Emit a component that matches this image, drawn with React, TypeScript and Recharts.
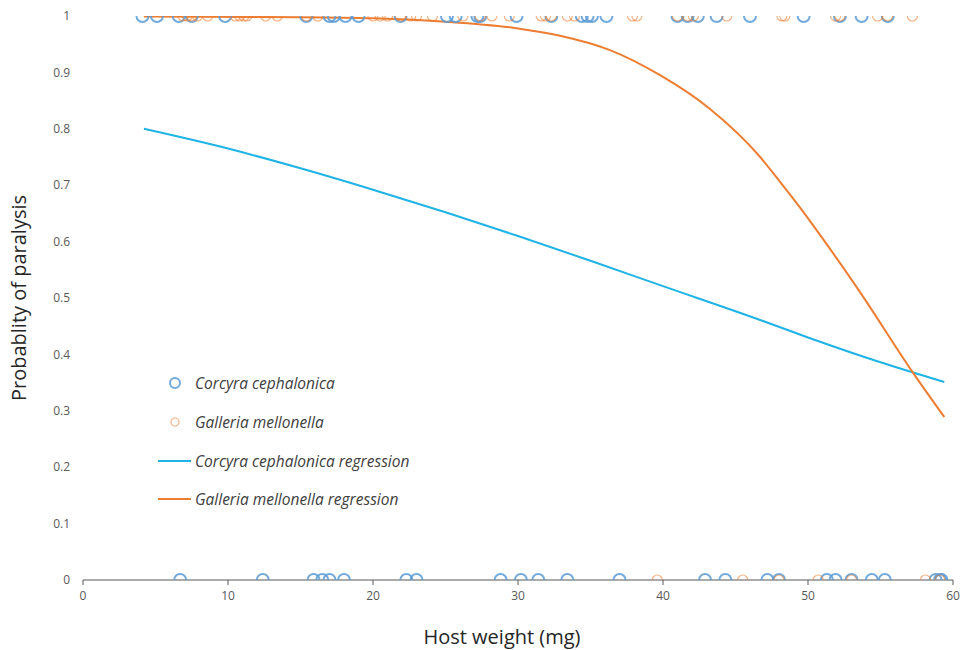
import React from 'react';
import { ComposedChart, Scatter, Line, XAxis, YAxis, Legend } from 'recharts';

// Host weights (mg) of Corcyra cephalonica hosts that were paralysed (1) or not (0)
const corcyraParalysedWeights = [4.1, 5.1, 6.6, 7.5, 9.8, 15.4, 17.0, 17.3, 18.1, 19.0, 21.9, 25.1, 25.7, 27.2, 27.4, 29.9, 32.3, 34.4, 34.8, 35.1, 36.1, 41.0, 41.7, 42.4, 43.7, 46.0, 49.7, 52.2, 53.7, 55.5];
const corcyraUnparalysedWeights = [6.7, 12.4, 15.9, 16.5, 17.0, 18.0, 22.3, 23.0, 28.8, 30.2, 31.4, 33.4, 37.0, 42.9, 44.3, 47.2, 48.0, 51.3, 51.9, 53.0, 54.4, 55.3, 58.8, 59.1, 59.2];

// Host weights (mg) of Galleria mellonella hosts that were paralysed (1) or not (0)
const galleriaParalysedWeights = [6.9, 7.2, 7.5, 7.9, 8.6, 10.5, 10.8, 11.1, 11.3, 12.6, 13.4, 15.4, 16.2, 20.0, 20.5, 21.0, 21.9, 22.6, 23.0, 24.1, 26.2, 27.4, 28.2, 29.4, 31.6, 31.9, 32.3, 33.4, 33.9, 37.9, 38.2, 41.0, 41.7, 42.1, 44.4, 48.2, 48.4, 51.9, 52.2, 54.8, 55.5, 57.2];
const galleriaUnparalysedWeights = [39.6, 45.5, 48.0, 50.7, 53.0, 58.1, 59.1];

// Regression curves
const corcyraRegWeights = [4.2, 10, 15, 20, 25, 30, 35, 40, 46.7, 50, 55, 59.4];
const corcyraRegProb = [0.8, 0.765, 0.73, 0.692, 0.652, 0.61, 0.566, 0.521, 0.461, 0.43, 0.386, 0.351];
const galleriaRegWeights = [4.2, 15, 20, 25, 30, 32.9, 36.3, 39.8, 43.2, 46.7, 48.1, 49.4, 51.3, 53.6, 57.2, 59.4];
const galleriaRegProb = [0.999, 0.998, 0.996, 0.99, 0.978, 0.965, 0.94, 0.895, 0.836, 0.75, 0.705, 0.662, 0.595, 0.51, 0.369, 0.289];

const xTicks = [0, 10, 20, 30, 40, 50, 60];
const yTicks = [0, 0.1, 0.2, 0.3, 0.4, 0.5, 0.6, 0.7, 0.8, 0.9, 1];

const BLUE = '#5B9BD5';
const ORANGE = '#ED7D31';
const CYAN = '#1FB3E6';

const corcyraData = [
  ...corcyraParalysedWeights.map((x) => ({ x, y: 1 })),
  ...corcyraUnparalysedWeights.map((x) => ({ x, y: 0 })),
];
const galleriaData = [
  ...galleriaParalysedWeights.map((x) => ({ x, y: 1 })),
  ...galleriaUnparalysedWeights.map((x) => ({ x, y: 0 })),
];
const corcyraReg = corcyraRegWeights.map((x, i) => ({ x, y: corcyraRegProb[i] }));
const galleriaReg = galleriaRegWeights.map((x, i) => ({ x, y: galleriaRegProb[i] }));

const FONT = '"Open Sans", "Noto Sans", sans-serif';

const BlueRing = (props: any) => (
  <circle cx={props.cx} cy={props.cy} r={6} fill="none" stroke={BLUE} strokeWidth={2} strokeOpacity={0.85} />
);
const OrangeRing = (props: any) => (
  <circle cx={props.cx} cy={props.cy} r={5} fill="none" stroke={ORANGE} strokeWidth={1.2} strokeOpacity={0.6} />
);

const legendItems = [
  { label: 'Corcyra cephalonica', kind: 'ring', color: BLUE },
  { label: 'Galleria mellonella', kind: 'ringSmall', color: ORANGE },
  { label: 'Corcyra cephalonica regression', kind: 'line', color: CYAN },
  { label: 'Galleria mellonella regression', kind: 'line', color: ORANGE },
];

const renderLegend = () => (
  <div style={{ fontFamily: FONT, fontStyle: 'italic', fontSize: 15.5, color: '#404040' }}>
    {legendItems.map((it) => (
      <div key={it.label} style={{ display: 'flex', alignItems: 'center', height: 38.7 }}>
        <svg width={37} height={20} style={{ flex: 'none' }}>
          {it.kind === 'line' ? (
            <line x1={0} y1={10} x2={33} y2={10} stroke={it.color} strokeWidth={2} />
          ) : it.kind === 'ring' ? (
            <circle cx={17} cy={10} r={5} fill="none" stroke={it.color} strokeWidth={2} strokeOpacity={0.85} />
          ) : (
            <circle cx={17} cy={10} r={4} fill="none" stroke={it.color} strokeWidth={1.2} strokeOpacity={0.6} />
          )}
        </svg>
        <span style={{ whiteSpace: 'nowrap' }}>{it.label}</span>
      </div>
    ))}
  </div>
);

const YLabel = (props: any) => {
  const vb = props.viewBox || { x: 0, y: 0, width: 0, height: 0 };
  const cx = vb.x + 18;
  const cy = vb.y + vb.height / 2;
  return (
    <text x={cx} y={cy} transform={`rotate(-90, ${cx}, ${cy})`} textAnchor="middle" dominantBaseline="central"
      fontSize={20} fill="#262626" fontFamily={FONT}>
      Probablity of paralysis
    </text>
  );
};

const XLabel = (props: any) => {
  const vb = props.viewBox || { x: 0, y: 0, width: 0, height: 0 };
  const cx = vb.x + vb.width / 2 - 16;
  const cy = vb.y + 56;
  return (
    <text x={cx} y={cy} textAnchor="middle" dominantBaseline="central" fontSize={20} fill="#262626" fontFamily={FONT}>
      Host weight (mg)
    </text>
  );
};

export default function App() {
  return (
    <div style={{ position: 'absolute', left: 0, top: 0, width: 961, height: 650, overflow: 'hidden', background: '#fff' }}>
      <ComposedChart width={961} height={650} margin={{ top: 16, right: 8, bottom: 0, left: 0 }} style={{ fontFamily: FONT }}>
        <XAxis
          type="number"
          dataKey="x"
          domain={[0, 60]}
          ticks={xTicks}
          allowDataOverflow
          height={70}
          axisLine={{ stroke: '#595959', strokeWidth: 1.2 }}
          tickLine={{ stroke: '#595959' }}
          tickSize={5}
          tick={{ fill: '#595959', fontSize: 12 }}
          tickMargin={6}
          label={<XLabel />}
        />
        <YAxis
          type="number"
          dataKey="y"
          domain={[0, 1]}
          ticks={yTicks}
          allowDataOverflow
          width={83}
          axisLine={false}
          tickLine={false}
          tickSize={6}
          tickMargin={7}
          tick={{ fill: '#595959', fontSize: 12 }}
          tickFormatter={(v: number) => String(v)}
          label={<YLabel />}
        />
        <Legend layout="vertical" align="center" verticalAlign="middle" content={renderLegend}
          wrapperStyle={{ left: 158, top: 364, width: 340, height: 160 }} />
        <Scatter name="Corcyra cephalonica" data={corcyraData} dataKey="y" shape={BlueRing} isAnimationActive={false} />
        <Scatter name="Galleria mellonella" data={galleriaData} dataKey="y" shape={OrangeRing} isAnimationActive={false} />
        <Line name="Corcyra cephalonica regression" data={corcyraReg} dataKey="y" type="monotone" stroke={CYAN}
          strokeWidth={2} dot={false} activeDot={false} isAnimationActive={false} />
        <Line name="Galleria mellonella regression" data={galleriaReg} dataKey="y" type="monotone" stroke={ORANGE}
          strokeWidth={2} dot={false} activeDot={false} isAnimationActive={false} />
      </ComposedChart>
    </div>
  );
}
